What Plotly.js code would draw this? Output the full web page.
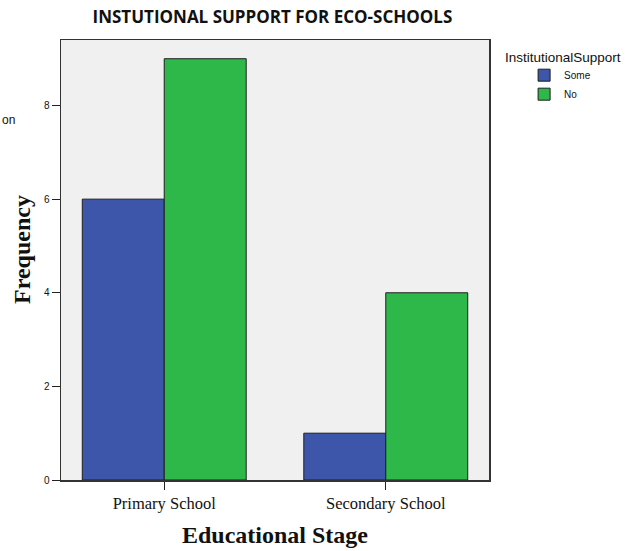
<!DOCTYPE html>
<html>
<head>
<meta charset="utf-8">
<script src="https://cdn.plot.ly/plotly-3.0.1.min.js"></script>
<style>
  html, body { margin: 0; padding: 0; background: #ffffff; }
  #chart { width: 638px; height: 551px; }
</style>
</head>
<body>
<div id="chart"></div>
<script>
// Educational stages on the x axis
const stages = ["Primary School", "Secondary School"];

// Frequency of schools per institutional-support answer
const someSupport = [6, 1];
const noSupport = [9, 4];

// Series names and y tick values
const seriesNames = ["Some", "No"];
const yTicks = [0, 2, 4, 6, 8];

const barLine = { color: "#1e1e1e", width: 1 };

const traces = [
  {
    type: "bar",
    name: seriesNames[0],
    x: stages,
    y: someSupport,
    marker: { color: "#3e56a9", line: barLine },
    hoverinfo: "x+y+name"
  },
  {
    type: "bar",
    name: seriesNames[1],
    x: stages,
    y: noSupport,
    marker: { color: "#2eb84a", line: barLine },
    hoverinfo: "x+y+name"
  }
];

const serif = "Liberation Serif, Times New Roman, serif";
const sans = "Liberation Sans, Arial, sans-serif";

const layout = {
  width: 638,
  height: 551,
  margin: { l: 61, r: 149, t: 40, b: 71 },
  paper_bgcolor: "#ffffff",
  plot_bgcolor: "#f0f0f0",
  barmode: "group",
  bargap: 0.26,
  bargroupgap: 0,
  showlegend: true,
  title: {
    text: "<b>INSTUTIONAL SUPPORT FOR ECO-SCHOOLS</b>",
    font: { family: "Open Sans, Arial, sans-serif", size: 17, color: "#111111" },
    xref: "container",
    x: 0.427,
    xanchor: "center",
    yref: "container",
    y: 0.969,
    yanchor: "middle"
  },
  xaxis: {
    type: "category",
    range: [-0.466, 1.466],
    showgrid: false,
    zeroline: false,
    showline: true,
    mirror: true,
    linecolor: "#333333",
    linewidth: 1.5,
    ticks: "outside",
    ticklen: 8,
    tickwidth: 1,
    tickcolor: "#222222",
    tickfont: { family: serif, size: 16.5, color: "#111111" },
    title: {
      text: "<b>Educational Stage</b>",
      font: { family: serif, size: 24, color: "#111111" },
      standoff: 14
    }
  },
  yaxis: {
    range: [0, 9.4],
    tickvals: yTicks,
    ticktext: yTicks.map(String),
    showgrid: false,
    zeroline: false,
    showline: true,
    mirror: true,
    linecolor: "#333333",
    linewidth: 1.5,
    ticks: "outside",
    ticklen: 8,
    tickwidth: 1,
    tickcolor: "#222222",
    tickfont: { family: sans, size: 10, color: "#111111" }
  },
  legend: {
    x: 1.082,
    xanchor: "left",
    y: 0.953,
    yanchor: "top",
    traceorder: "normal",
    bgcolor: "rgba(0,0,0,0)",
    font: { family: sans, size: 10, color: "#111111" },
    itemclick: false,
    tracegroupgap: 0
  },
  annotations: [
    {
      // y-axis title, placed by hand so it sits slightly above the plot centre
      text: "<b>Frequency</b>",
      xref: "paper", yref: "paper",
      x: -0.091, y: 0.523,
      xanchor: "center", yanchor: "middle",
      textangle: -90,
      showarrow: false,
      font: { family: serif, size: 24, color: "#111111" }
    },
    {
      text: "InstitutionalSupport",
      xref: "paper", yref: "paper",
      x: 1.033, y: 0.961,
      xanchor: "left", yanchor: "middle",
      showarrow: false,
      font: { family: sans, size: 13.5, color: "#111111" }
    },
    {
      text: "on",
      xref: "paper", yref: "paper",
      x: -0.142, y: 0.818,
      xanchor: "left", yanchor: "middle",
      showarrow: false,
      font: { family: sans, size: 12, color: "#111111" }
    }
  ]
};

Plotly.newPlot("chart", traces, layout, { displayModeBar: false, staticPlot: true });
</script>
</body>
</html>
